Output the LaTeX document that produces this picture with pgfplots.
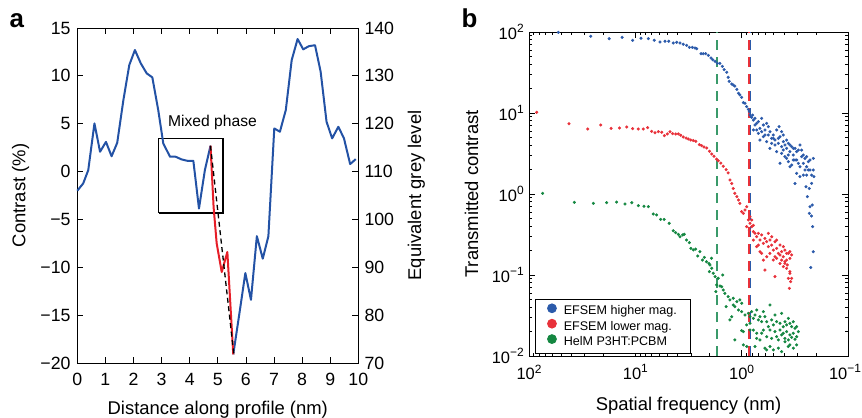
\documentclass[border=0pt]{standalone}
\usepackage{fontspec}
\setmainfont{Liberation Sans}
\usepackage{pgfplots}
\pgfplotsset{compat=1.18}

\definecolor{lineblue}{HTML}{2352A5}
\definecolor{linered}{HTML}{E61E28}
\definecolor{ptblue}{HTML}{2B5AAA}
\definecolor{ptred}{HTML}{E8313A}
\definecolor{ptgreen}{HTML}{148741}
\definecolor{dashgreen}{HTML}{3A9A6A}

\newcommand\lab{\fontsize{18.5}{20}\selectfont}
\newcommand\tck{\fontsize{17.8}{20}\selectfont}
\newcommand\sci[1]{10\raisebox{0.42em}{\fontsize{12}{12}\selectfont #1}}
\newcommand\legtxt[1]{\makebox[121bp][l]{\fontsize{12.6}{13}\selectfont #1}}

\begin{document}
\begin{tikzpicture}
\useasboundingbox (0,0) rectangle (862bp,418bp);

\node[font=\fontsize{26}{28}\selectfont\bfseries, anchor=base west, inner sep=0] at (9.5bp,390bp) {a};
\node[font=\fontsize{26}{28}\selectfont\bfseries, anchor=base west, inner sep=0] at (461.5bp,390bp) {b};

% ---------- panel a ----------
\begin{axis}[
    at={(77.3bp,55bp)}, anchor=south west, scale only axis,
    width=281bp, height=335bp,
    xmin=0, xmax=10, ymin=-20, ymax=15,
    xtick={0,1,...,10}, ytick={-20,-15,...,15},
    xticklabels={0,1,2,3,4,5,6,7,8,9,10},
    yticklabels={−20,−15,−10,−5,0,5,10,15},
    ytick pos=left, xtick pos=both,
    tick align=inside, major tick length=6bp,
    tick style={black, line width=0.8bp},
    axis line style={line width=0.9bp},
    tick label style={font=\tck},
    xticklabel style={yshift=-6.7bp},
    yticklabel style={xshift=-3.3bp},
    label style={font=\lab},
    xlabel={Distance along profile (nm)},
    xlabel style={at={(axis description cs:0.5,-0.155)}, anchor=base},
    ylabel={Contrast (\%)},
    ylabel style={at={(axis description cs:-0.202,0.5)}, anchor=center},
    clip=false,
]
\addplot[black, line width=1.4bp, line join=miter] coordinates {
    (2.9,-4.31) (5.18,-4.31) (5.18,3.47) (2.9,3.47) (2.9,-4.31) };
\addplot[lineblue, line width=2bp, line join=round] coordinates {
    (0,-2.0) (0.21,-1.24) (0.39,0.15) (0.61,5.03) (0.81,2.07) (1.02,3.1)
    (1.22,1.6) (1.42,3.0) (1.64,7.47) (1.85,11.13) (2.05,12.7) (2.26,11.3)
    (2.47,10.26) (2.67,9.84) (2.88,6.43) (3.06,2.94) (3.30,1.55) (3.50,1.55)
    (3.71,1.27) (3.91,1.13) (4.13,1.12) (4.33,-3.86) (4.54,0.15) (4.74,2.7) };
\addplot[lineblue, line width=2bp, line join=round] coordinates {
    (5.55,-19.1) (5.77,-14.8) (5.98,-10.6) (6.18,-13.4) (6.39,-6.75) (6.6,-9.1)
    (6.8,-6.75) (7.01,4.51) (7.21,4.16) (7.42,6.43) (7.63,11.65) (7.84,13.85)
    (8.04,12.77) (8.24,13.1) (8.46,13.2) (8.66,10.43) (8.87,5.2) (9.07,3.47)
    (9.29,4.68) (9.49,3.47) (9.71,0.78) (9.91,1.3) };
\addplot[linered, line width=2bp, line join=round] coordinates {
    (4.74,2.7) (4.85,-3.69) (4.96,-7.5) (5.14,-10.5) (5.34,-8.4) (5.55,-19.1) };
\addplot[black, line width=1.3bp, dash pattern=on 5bp off 3.5bp] coordinates {
    (4.74,2.7) (5.57,-19.1) };
\node[font=\fontsize{15.7}{17}\selectfont, anchor=base] at (axis cs:4.81,4.72) {Mixed phase};
\end{axis}

\begin{axis}[
    at={(77.3bp,55bp)}, anchor=south west, scale only axis,
    width=281bp, height=335bp,
    xmin=0, xmax=10, ymin=70, ymax=140,
    axis x line=none, axis y line*=right,
    ytick={70,80,...,140},
    tick align=inside, major tick length=6bp,
    tick style={black, line width=0.8bp},
    axis line style={line width=0.9bp},
    /pgf/number format/assume math mode=true,
    yticklabel style={font=\tck, xshift=2.7bp},
    ylabel={Equivalent grey level},
    ylabel style={font=\lab, at={(axis description cs:1.207,0.5)}, anchor=center},
]
\end{axis}

% ---------- panel b ----------
\begin{axis}[
    at={(529bp,62bp)}, anchor=south west, scale only axis,
    width=319bp, height=324bp,
    xmode=log, ymode=log, x dir=reverse,
    xmin=0.1, xmax=100, ymin=0.01, ymax=100,
    xtick={0.1,1,10,100},
    xticklabels={\hspace*{-6bp}\sci{−1},\sci{0},\sci{1},\sci{2}},
    ytick={0.01,0.1,1,10,100},
    yticklabels={\sci{−2},\sci{−1},\sci{0},\sci{1},\sci{2}},
    minor xtick={0.2,0.3,0.4,0.5,0.6,0.7,0.8,0.9,2,3,4,5,6,7,8,9,20,30,40,50,60,70,80,90},
    minor ytick={0.02,0.03,0.04,0.05,0.06,0.07,0.08,0.09,0.2,0.3,0.4,0.5,0.6,0.7,0.8,0.9,2,3,4,5,6,7,8,9,20,30,40,50,60,70,80,90},
    tick align=inside, major tick length=6bp, minor tick length=3.2bp,
    tick style={black, line width=0.8bp},
    axis line style={line width=0.9bp},
    tick label style={font=\fontsize{16.5}{18}\selectfont},
    xticklabel style={yshift=-5.2bp},
    yticklabel style={xshift=-1.8bp},
    label style={font=\lab},
    xlabel={Spatial frequency (nm)},
    xlabel style={at={(axis description cs:0.5,-0.167)}, anchor=base},
    ylabel={Transmitted contrast},
    ylabel style={at={(axis description cs:-0.180,0.5)}, anchor=center},
    legend style={at={(axis description cs:0.019,0.006)}, anchor=south west,
        draw=black, line width=0.9bp, font=\fontsize{12.6}{13}\selectfont,
        inner xsep=3bp, inner ysep=4bp, row sep=0bp, nodes={inner sep=2.4bp}},
    legend cell align=left,
]
\addplot[dashgreen, line width=1.8bp, dash pattern=on 10bp off 7bp, forget plot]
    coordinates {(1.72,0.01) (1.72,100)};
\addplot[ptred, line width=1.4bp, dash pattern=on 10bp off 7bp, forget plot]
    coordinates {(0.850,0.01) (0.850,100)};
\addplot[ptblue, line width=1.4bp, dash pattern=on 10bp off 7bp, forget plot]
    coordinates {(0.822,0.01) (0.822,100)};

\addplot[only marks, mark=*, mark size=1.35bp, ptblue,
    legend image code/.code={\path (0bp,0bp) (22bp,0bp); \fill[ptblue] (13bp,0.1cm) circle (4.4bp);}] coordinates {
    (53,99) (26.3,88.5) (17.6,82.8) (13.3,85.9) (10.6,78.9) (8.85,83.6) (7.55,82.8)
    (6.64,78.9) (5.86,75.3) (5.26,76.7) (4.85,76.7) (4.40,73.1) (4.08,74.5) (3.80,73.1)
    (3.54,70.5) (3.29,68.4) (3.10,64.7) (2.91,64.7) (2.75,63.4) (2.65,62.2) (2.41,54.0)
    (2.30,54.0) (2.18,54.0) (2.06,51.5) (1.94,47.8) (1.87,45.5) (1.78,43.4) (1.69,41.0)
    (1.60,41.0) (1.52,37.7) (1.46,34.3) (1.38,31.8) (1.34,27.6) (1.31,24.6)
    (1.24,22.8) (1.20,22.1) (1.16,21.5) (1.11,19.6) (1.07,17.5) (1.04,16.7) (1.00,15.6)
    (0.964,13.4) (0.931,13.2) (0.897,12.0) (0.865,11.1) (0.847,10.4) (0.835,9.44)
    (0.805,8.83) (0.776,8.18) (0.750,8.59) (0.723,7.45) (0.697,7.81) (0.673,6.46)
    (0.649,8.59) (0.625,7.11) (0.604,6.17) (0.582,7.45) (0.561,5.35) (0.542,5.87)
    (0.522,4.86) (0.504,5.35) (0.486,4.63) (0.469,6.17) (0.452,4.22) (0.436,5.10)
    (0.421,5.87) (0.406,4.43) (0.392,4.03) (0.378,3.66) (0.364,4.22) (0.352,3.33)
    (0.339,3.84) (0.327,3.03) (0.315,3.66) (0.304,2.63) (0.293,3.49) (0.283,4.03)
    (0.273,2.89) (0.263,2.39) (0.254,2.75) (0.245,2.17) (0.236,2.51) (0.228,1.98)
    (0.220,1.71) (0.212,2.75) (0.209,1.64)
    (0.283,2.17) (0.304,1.80) (0.327,2.63) (0.352,2.17) (0.378,2.75) (0.406,3.49)
    (0.436,2.39) (0.469,3.33) (0.542,3.66) (0.582,4.43) (0.625,5.10) (0.673,4.63)
    (0.697,5.61) (0.723,6.17) (0.750,7.11) (0.776,6.17) (0.445,6.78) (0.421,3.84)
    (0.392,2.89) (0.364,2.51) (0.339,2.28) (0.315,1.35) (0.283,1.64) (0.263,1.71)
    (0.248,1.23) (0.241,0.927) (0.231,1.17) (0.220,1.35) (0.228,0.697) (0.217,0.731)
    (0.231,0.577) (0.220,0.535) (0.215,0.395) (0.212,0.194) (0.224,0.124)
    (0.789,9.44) (0.561,6.78) (0.504,4.86) (0.452,4.86) (0.406,5.35) (0.378,4.63)
    (0.352,4.03) (0.327,3.66) (0.304,3.33) (0.273,3.49) (0.263,3.03) (0.245,2.89)
    (0.236,1.98) (0.254,1.98) (0.293,2.39) (0.315,2.63) (0.364,3.03) (0.421,3.18)
    (0.486,4.03) (0.522,4.22) (0.604,5.35) (0.649,5.87) (0.212,1.98) (0.228,2.63)
    (0.245,1.71) };
\addlegendentry{\legtxt{EFSEM higher mag.}}

\addplot[only marks, mark=*, mark size=1.35bp, ptred,
    legend image code/.code={\path (0bp,0bp) (22bp,0bp); \fill[ptred] (13bp,0.1cm) circle (4.4bp);}] coordinates {
    (84.7,10.2) (42.1,7.38) (28.0,6.34) (21.2,7.11) (16.9,6.47) (14.1,6.53) (12.05,6.71)
    (10.6,6.40) (9.38,6.34) (8.41,6.34) (7.66,6.59) (7.02,5.94) (6.53,5.71) (6.08,5.88)
    (5.65,5.78) (5.33,5.25) (5.00,5.51) (4.72,5.88) (4.46,5.56) (4.17,5.51) (3.94,5.51)
    (3.74,5.30) (3.54,5.06) (3.33,4.91) (3.18,4.78) (3.01,4.64) (2.85,4.57) (2.70,4.47)
    (2.50,4.06) (2.38,3.95) (2.26,3.80) (2.13,3.70) (2.01,3.37) (1.91,3.12) (1.82,2.92)
    (1.72,2.70) (1.66,2.58) (1.57,2.41) (1.49,2.20) (1.40,2.00) (1.34,1.82)
    (1.29,1.49) (1.24,1.35) (1.20,1.17) (1.16,1.02) (1.11,0.927) (1.07,0.843)
    (1.04,0.766) (1.00,0.605) (0.964,0.577) (0.931,0.634) (0.897,0.697) (0.865,0.478)
    (0.835,0.434) (0.805,0.395) (0.847,0.359) (0.776,0.343) (0.897,0.395) (0.750,0.327)
    (0.723,0.297) (0.697,0.327) (0.673,0.270) (0.649,0.312) (0.625,0.246) (0.604,0.283)
    (0.582,0.258) (0.561,0.224) (0.542,0.270) (0.522,0.234) (0.504,0.203) (0.486,0.258)
    (0.469,0.213) (0.452,0.185) (0.436,0.234) (0.421,0.194) (0.406,0.168) (0.392,0.203)
    (0.378,0.153) (0.364,0.185) (0.352,0.160) (0.339,0.177)
    (0.673,0.194) (0.625,0.153) (0.582,0.168) (0.542,0.185) (0.504,0.153) (0.469,0.160)
    (0.436,0.139) (0.406,0.127) (0.378,0.121) (0.352,0.110) (0.604,0.115) (0.364,0.091)
    (0.723,0.224) (0.776,0.270) (0.697,0.234) (0.561,0.327) (0.522,0.297) (0.649,0.185)
    (0.486,0.168) (0.421,0.153) (0.392,0.139)
    (0.835,0.525) (0.805,0.478) (0.776,0.41) (0.469,0.270) (0.406,0.224) (0.352,0.194)
    (0.436,0.177) (0.378,0.185)
    (0.339,0.091) (0.356,0.0686) (0.346,0.0828) (0.486,0.0955) (0.352,0.105)
    (0.372,0.133) (0.392,0.146) };
\addlegendentry{\legtxt{EFSEM lower mag.}}

\addplot[only marks, mark=*, mark size=1.35bp, ptgreen,
    legend image code/.code={\path (0bp,0bp) (22bp,0bp); \fill[ptgreen] (13bp,0.1cm) circle (4.4bp);}] coordinates {
    (74.5,1.02) (37.5,0.789) (24.8,0.767) (18.6,0.782) (15.0,0.796) (12.5,0.753)
    (10.8,0.782) (9.38,0.718) (8.30,0.705) (7.55,0.698) (6.78,0.567) (6.31,0.551)
    (5.78,0.486) (5.35,0.486) (4.80,0.434) (4.40,0.352) (4.18,0.333) (3.94,0.318)
    (3.80,0.297) (3.59,0.312) (3.47,0.318) (3.30,0.270) (3.11,0.251) (3.00,0.213)
    (2.85,0.204) (2.71,0.209) (2.59,0.172) (2.47,0.194) (2.34,0.153) (2.24,0.165)
    (2.14,0.146) (2.03,0.139) (1.92,0.161)
    (1.99,0.133) (1.91,0.121) (2.01,0.110) (1.85,0.105) (1.78,0.0955) (1.66,0.091)
    (1.51,0.100) (1.72,0.0753) (1.60,0.0733) (1.54,0.0718) (1.75,0.0624) (1.49,0.0653)
    (1.44,0.0594) (1.34,0.0541) (1.29,0.0492)
    (1.20,0.0515) (1.11,0.0469) (1.04,0.0492) (1.00,0.0448) (1.20,0.0427) (1.16,0.0407)
    (1.40,0.0407) (1.07,0.0370) (1.00,0.0353) (0.931,0.0321) (0.865,0.0337)
    (0.835,0.0306) (0.805,0.0353) (0.776,0.0292) (0.750,0.0321) (0.723,0.0370)
    (0.697,0.0279) (0.673,0.0306) (0.649,0.0265) (0.625,0.0353) (0.604,0.0306)
    (0.582,0.0265) (0.542,0.0427) (0.561,0.0230) (0.522,0.0279) (0.504,0.0242)
    (0.486,0.0321) (0.469,0.0265) (0.436,0.0253) (0.421,0.0337) (0.406,0.0230)
    (0.392,0.0265) (0.378,0.0242) (0.364,0.0292) (0.352,0.0253) (0.339,0.0230)
    (0.327,0.0265) (0.315,0.0220) (0.304,0.0230) (0.293,0.0200)
    (0.436,0.0209) (0.421,0.0182) (0.406,0.0191) (0.392,0.0165) (0.378,0.0200)
    (0.364,0.0158) (0.352,0.0182) (0.339,0.0170) (0.327,0.0191) (0.315,0.0161)
    (0.304,0.0173) (0.469,0.0173) (0.452,0.0158) (0.486,0.0200) (0.542,0.0209)
    (0.582,0.0173) (0.625,0.0209) (0.723,0.0191) (0.776,0.0209) (0.835,0.0209)
    (0.897,0.0242) (0.964,0.0200) (1.00,0.0206) (0.673,0.0158) (0.604,0.0125)
    (0.582,0.0119) (0.542,0.0131) (0.504,0.0119) (0.452,0.0125) (0.421,0.0113)
    (0.392,0.0150) (0.352,0.0137) (0.327,0.0125) (0.723,0.0165) (0.750,0.0131)
    (1.16,0.0158) (0.964,0.0137) (0.897,0.0131) (1.29,0.0279) (1.24,0.0306)
    (0.835,0.0253) (0.649,0.0191) (0.522,0.0165) (0.304,0.0137) (0.364,0.0131) };
\addlegendentry{\legtxt{HelM P3HT:PCBM}}
\end{axis}
\end{tikzpicture}
\end{document}
